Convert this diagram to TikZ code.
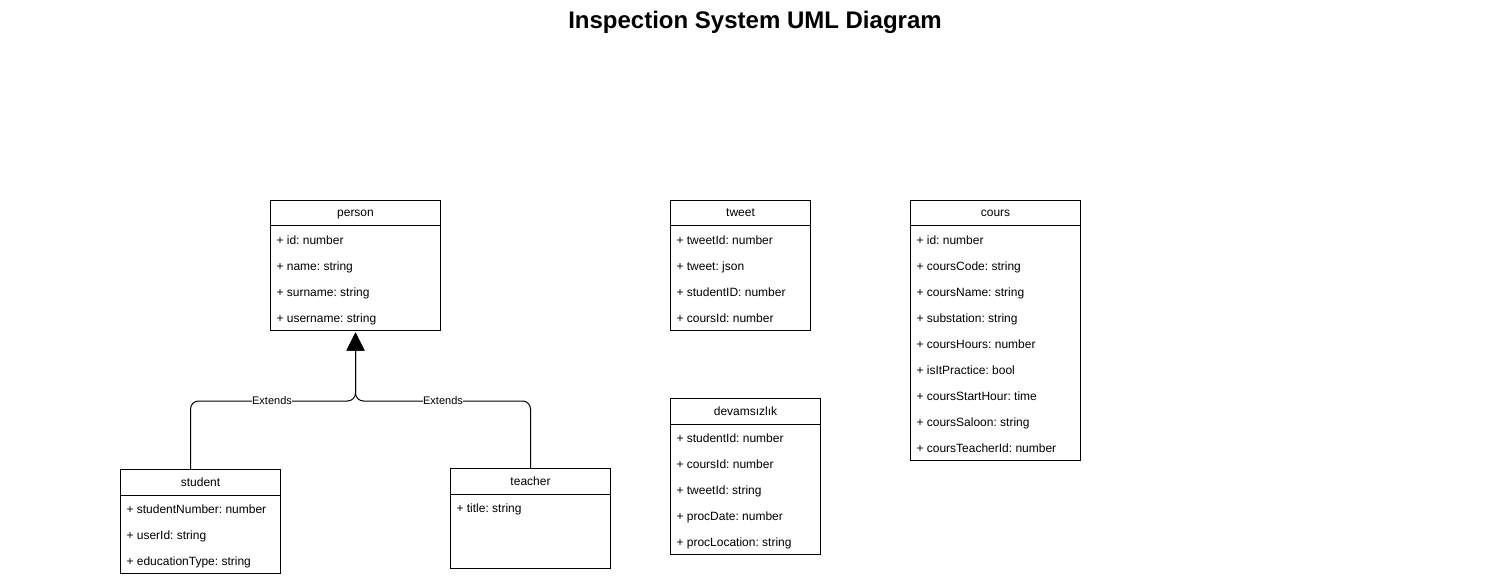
\documentclass[tikz,border=0pt]{standalone}
\usepackage{fontspec}
\setmainfont{Liberation Sans}
\usetikzlibrary{arrows.meta}
\frenchspacing
\begin{document}
\begin{tikzpicture}[x=1pt,y=-1pt, line width=1pt,
  cls/.style={draw, anchor=north west, inner sep=0pt},
  hdr/.style={anchor=base, font=\fontsize{12}{14}\selectfont, inner sep=0pt},
  attr/.style={anchor=base west, font=\fontsize{12}{14}\selectfont, inner sep=0pt},
  lbl/.style={anchor=base, fill=white, font=\fontsize{11}{13}\selectfont, inner sep=0.5pt},
  ext/.style={rounded corners=8pt, -{Triangle[width=18pt,length=18pt]}, shorten >=1.5pt}]
\useasboundingbox (0,0) rectangle (1511,577);
\node[anchor=base, font=\bfseries\fontsize{24}{28}\selectfont] (title) at (755,29) {Inspection System UML Diagram};

% person
\node[cls, minimum width=170pt, minimum height=130pt] (person) at (270,200) {};
\draw ([yshift=-26pt]person.north west) -- ([yshift=-26pt]person.north east);
\node[hdr] (personh) at ([yshift=-17pt]person.north) {person};
\foreach \t [count=\i] in {+ id: number, + name: string, + surname: string, + username: string}
  \node[attr] (p\i) at (276,{244+26*(\i-1)}) {\t};

% tweet
\node[cls, minimum width=140pt, minimum height=130pt] (tweet) at (670,200) {};
\draw ([yshift=-26pt]tweet.north west) -- ([yshift=-26pt]tweet.north east);
\node[hdr] (tweeth) at ([yshift=-17pt]tweet.north) {tweet};
\foreach \t [count=\i] in {+ tweetId: number, + tweet: json, + studentID: number, + coursId: number}
  \node[attr] (tw\i) at (676,{244+26*(\i-1)}) {\t};

% cours
\node[cls, minimum width=170pt, minimum height=260pt] (cours) at (910,200) {};
\draw ([yshift=-26pt]cours.north west) -- ([yshift=-26pt]cours.north east);
\node[hdr] (coursh) at ([yshift=-17pt]cours.north) {cours};
\foreach \t [count=\i] in {+ id: number, + coursCode: string, + coursName: string, + substation: string, + coursHours: number, + isItPractice: bool, + coursStartHour: time, + coursSaloon: string, + coursTeacherId: number}
  \node[attr] (c\i) at (916,{244+26*(\i-1)}) {\t};

% devamsizlik
\node[cls, minimum width=150pt, minimum height=156pt] (devam) at (670,398) {};
\draw ([yshift=-26pt]devam.north west) -- ([yshift=-26pt]devam.north east);
\node[hdr] (devamh) at ([yshift=-17pt]devam.north) {devamsızlık};
\foreach \t [count=\i] in {+ studentId: number, + coursId: number, + tweetId: string, + procDate: number, + procLocation: string}
  \node[attr] (d\i) at (676,{442+26*(\i-1)}) {\t};

% student
\node[cls, minimum width=160pt, minimum height=104pt] (student) at (120,469) {};
\draw ([yshift=-26pt]student.north west) -- ([yshift=-26pt]student.north east);
\node[hdr] (studenth) at ([yshift=-17pt]student.north) {student};
\foreach \t [count=\i] in {+ studentNumber: number, + userId: string, + educationType: string}
  \node[attr] (s\i) at (126,{513+26*(\i-1)}) {\t};

% teacher
\node[cls, minimum width=160pt, minimum height=100pt] (teacher) at (450,468) {};
\draw ([yshift=-26pt]teacher.north west) -- ([yshift=-26pt]teacher.north east);
\node[hdr] (teacherh) at ([yshift=-17pt]teacher.north) {teacher};
\node[attr] (t1) at (456,512) {+ title: string};

% generalisation
\coordinate (jn) at ([yshift=-70pt]person.south);
\draw[ext] ([xshift=-10pt]student.north) |- (jn) -- (person.south);
\draw[ext] (teacher.north) |- (jn) -- (person.south);
\node[lbl] (e1) at (272,404) {Extends};
\node[lbl] (e2) at (443,404) {Extends};
\end{tikzpicture}
\end{document}
